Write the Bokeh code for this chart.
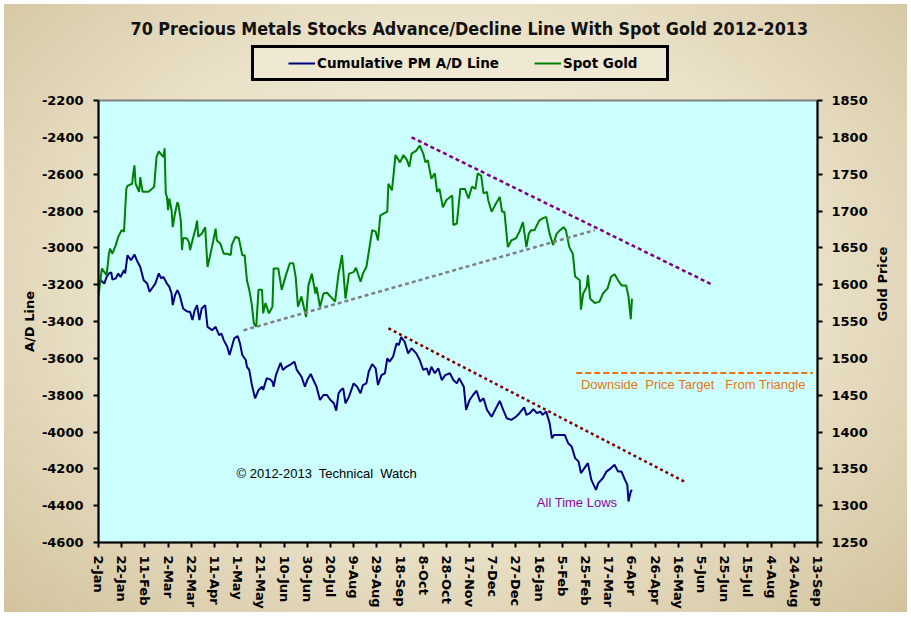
import math

from bokeh.embed import file_html
from bokeh.layouts import column
from bokeh.models import (ColumnDataSource, FixedTicker, Label, Legend, LegendItem,
                          LinearAxis, Range1d, Spacer)
from bokeh.plotting import figure
from bokeh.resources import INLINE

# Days counted from 2 Jan 2012; tick labels every 20 days up to 13 Sep 2013
X_TICK_STEP = 20
X_TICK_LABELS = [
    "2-Jan", "22-Jan", "11-Feb", "2-Mar", "22-Mar", "11-Apr", "1-May", "21-May",
    "10-Jun", "30-Jun", "20-Jul", "9-Aug", "29-Aug", "18-Sep", "8-Oct", "28-Oct",
    "17-Nov", "7-Dec", "27-Dec", "16-Jan", "5-Feb", "25-Feb", "17-Mar", "6-Apr",
    "26-Apr", "16-May", "5-Jun", "25-Jun", "15-Jul", "4-Aug", "24-Aug", "13-Sep",
]
AD_TICKS = [-4600, -4400, -4200, -4000, -3800, -3600, -3400, -3200, -3000,
            -2800, -2600, -2400, -2200]
GOLD_TICKS = [1250, 1300, 1350, 1400, 1450, 1500, 1550, 1600, 1650, 1700,
              1750, 1800, 1850]

# Cumulative PM advance/decline line
AD_DAY = [
    0, 2, 5, 7, 9, 11, 12, 15, 17, 19, 22, 23, 25, 28, 29, 31, 33, 36, 39, 42,
    44, 46, 49, 52, 54, 56, 59, 61, 63, 64, 66, 68, 70, 73, 76, 79, 81, 83, 85, 87,
    89, 92, 94, 98, 101, 104, 106, 108, 111, 113, 115, 117, 120, 122, 124, 127, 128, 130, 132, 135,
    138, 141, 142, 145, 148, 150, 151, 153, 157, 159, 162, 165, 169, 171, 175, 178, 180, 183, 186, 188,
    191, 194, 197, 200, 203, 205, 207, 209, 211, 213, 216, 220, 223, 226, 228, 231, 233, 236, 239, 241,
    244, 247, 249, 251, 254, 257, 259, 261, 264, 267, 270, 274, 277, 280, 283, 285, 287, 290, 293, 296,
    299, 303, 306, 309, 311, 315, 317, 320, 323, 326, 329, 332, 335, 339, 342, 346, 349, 352, 356, 360,
    363, 367, 369, 372, 375, 378, 381, 383, 386, 389, 391, 393, 398, 402, 405, 408, 411, 414, 416, 419,
    422, 425, 429, 431, 435, 438, 442, 445, 448, 451, 454, 456, 457, 459, 460,
]
AD_VALUE = [
    -3194, -3176, -3194, -3158, -3139, -3134, -3172, -3166, -3139, -3158, -3121, -3139, -3040, -3067, -3058, -3036, -3067, -3104, -3176, -3194,
    -3239, -3221, -3194, -3139, -3166, -3158, -3194, -3211, -3248, -3311, -3257, -3230, -3257, -3329, -3344, -3348, -3392, -3338, -3311, -3392,
    -3329, -3311, -3429, -3447, -3429, -3474, -3465, -3501, -3537, -3582, -3537, -3492, -3479, -3519, -3582, -3609, -3646, -3663, -3736, -3817,
    -3772, -3754, -3772, -3708, -3714, -3727, -3754, -3691, -3624, -3663, -3646, -3636, -3618, -3663, -3699, -3754, -3718, -3685, -3727, -3754,
    -3826, -3799, -3799, -3826, -3844, -3884, -3790, -3772, -3763, -3844, -3808, -3736, -3754, -3790, -3745, -3736, -3673, -3631, -3654, -3745,
    -3691, -3681, -3600, -3618, -3591, -3519, -3528, -3485, -3510, -3573, -3546, -3573, -3609, -3663, -3654, -3691, -3646, -3681, -3654, -3718,
    -3691, -3681, -3718, -3736, -3708, -3754, -3880, -3826, -3799, -3776, -3835, -3817, -3880, -3917, -3880, -3831, -3880, -3925, -3934, -3917,
    -3898, -3866, -3907, -3898, -3876, -3898, -3889, -3907, -3889, -3952, -4034, -4016, -4016, -4016, -4061, -4079, -4142, -4161, -4223, -4196,
    -4169, -4260, -4314, -4278, -4250, -4215, -4196, -4178, -4215, -4215, -4260, -4287, -4377, -4323, -4314,
]

# Spot gold, US$ per ounce
GOLD_DAY = [
    0, 2, 3, 6, 7, 9, 10, 12, 15, 17, 20, 22, 23, 24, 25, 29, 30, 31, 32, 35,
    36, 38, 40, 43, 46, 48, 50, 52, 54, 56, 57, 58, 59, 60, 61, 63, 64, 66, 68, 69,
    71, 72, 73, 76, 78, 79, 81, 84, 85, 86, 89, 92, 94, 96, 99, 101, 102, 105, 108, 111,
    114, 115, 118, 121, 124, 126, 128, 130, 132, 134, 136, 138, 141, 142, 144, 147, 150, 151, 155, 158,
    162, 165, 168, 170, 172, 175, 179, 181, 184, 187, 188, 191, 194, 197, 200, 204, 207, 210, 213, 216,
    220, 222, 226, 228, 231, 236, 239, 241, 243, 249, 250, 253, 255, 256, 260, 263, 266, 268, 270, 274,
    277, 280, 282, 284, 287, 290, 292, 294, 297, 300, 305, 306, 309, 312, 316, 319, 322, 325, 327, 330,
    332, 335, 336, 339, 342, 346, 348, 350, 353, 356, 360, 363, 366, 369, 371, 373, 376, 380, 383, 386,
    389, 392, 395, 398, 401, 403, 406, 409, 411, 415, 416, 418, 421, 422, 424, 428, 432, 435, 439, 442,
    445, 448, 451, 455, 457, 459, 460,
]
GOLD_PRICE = [
    1584, 1611, 1622, 1615, 1613, 1642, 1649, 1642, 1654, 1665, 1674, 1672, 1701, 1730, 1734, 1737, 1751, 1762, 1737, 1726,
    1746, 1726, 1726, 1726, 1730, 1733, 1773, 1781, 1777, 1773, 1785, 1724, 1719, 1701, 1717, 1701, 1678, 1697, 1712, 1708,
    1687, 1647, 1663, 1663, 1658, 1647, 1660, 1678, 1687, 1665, 1669, 1678, 1624, 1638, 1660, 1676, 1660, 1656, 1642, 1642,
    1640, 1654, 1665, 1663, 1640, 1640, 1606, 1593, 1575, 1547, 1543, 1593, 1593, 1561, 1575, 1561, 1570, 1622, 1622, 1593,
    1615, 1629, 1629, 1611, 1570, 1584, 1556, 1599, 1615, 1588, 1597, 1570, 1588, 1589, 1584, 1577, 1615, 1640, 1581, 1615,
    1617, 1623, 1604, 1615, 1624, 1674, 1672, 1660, 1694, 1699, 1737, 1728, 1758, 1776, 1766, 1776, 1769, 1760, 1778, 1782,
    1789, 1778, 1766, 1769, 1744, 1751, 1726, 1730, 1705, 1715, 1721, 1681, 1683, 1730, 1730, 1717, 1733, 1730, 1751, 1748,
    1724, 1726, 1715, 1699, 1708, 1719, 1699, 1699, 1651, 1660, 1663, 1672, 1685, 1651, 1669, 1674, 1674, 1687, 1690, 1692,
    1669, 1654, 1669, 1674, 1678, 1674, 1651, 1642, 1611, 1606, 1566, 1588, 1597, 1613, 1581, 1575, 1577, 1588, 1595, 1611,
    1614, 1606, 1599, 1599, 1584, 1553, 1581,
]

# Hand-drawn trend lines (triangle on gold, falling resistance on the A/D line)
GOLD_SUPPORT_DAY = [125, 428]
GOLD_SUPPORT_PRICE = [1538, 1674]
GOLD_RESIST_DAY = [270, 528]
GOLD_RESIST_PRICE = [1800, 1601]
AD_RESIST_DAY = [250, 506]
AD_RESIST_VALUE = [-3437, -4272]
TARGET_DAY = [412, 616]
TARGET_PRICE = 1480

AD_COLOR = "#000080"
GOLD_COLOR = "#008000"
TICK_FONT = "DejaVu Sans"
NOTE_FONT = "Liberation Sans"
NB = "\u00a0"  # keeps the doubled word gaps of the notes

ad_src = ColumnDataSource(data=dict(day=AD_DAY, value=AD_VALUE))
gold_src = ColumnDataSource(data=dict(day=GOLD_DAY, price=GOLD_PRICE))

# ---- header: title and legend -------------------------------------------
head = figure(
    width=911, height=75,
    output_backend="svg", toolbar_location=None,
    x_range=Range1d(0, 1), y_range=Range1d(0, 1),
    x_axis_type=None, y_axis_type=None,
    min_border_left=0, min_border_right=0, min_border_top=0, min_border_bottom=0,
)
head.border_fill_color = None
head.background_fill_color = None
head.outline_line_color = None
head.grid.visible = False
head.title.text = "70 Precious Metals Stocks Advance/Decline Line With Spot Gold 2012-2013"
head.title.align = "left"
head.title.offset = 32
head.title.standoff = 0
head.title.text_font = "DejaVu Sans Condensed, Liberation Sans Narrow, DejaVu Sans"
head.title.text_font_size = "17.8px"
head.title.text_font_style = "bold"
head.title.text_color = "#111111"

# legend keys: the series drawn against the header's unit ranges fall outside
# its frame, so only their swatches show
ad_key = head.line("day", "value", source=ad_src, line_color=AD_COLOR, line_width=2)
gold_key = head.line("day", "price", source=gold_src, line_color=GOLD_COLOR, line_width=2)
legend = Legend(
    items=[LegendItem(label="Cumulative PM A/D Line", renderers=[ad_key]),
           LegendItem(label="Spot Gold", renderers=[gold_key])],
    orientation="horizontal",
    location=(153, 9),
    title=" ", title_location="left", title_standoff=14,
    padding=5, margin=0, spacing=35,
    glyph_width=27, glyph_height=16, label_standoff=2, label_width=98, label_height=20,
    label_text_font=TICK_FONT, label_text_font_style="bold", label_text_font_size="13.5px",
    label_text_color="black",
    border_line_color="black", border_line_width=3, border_line_alpha=1,
    background_fill_color="#EFE8D2", background_fill_alpha=1,
)
head.add_layout(legend, "center")

# ---- main chart ----------------------------------------------------------
p = figure(
    width=911, height=533,
    output_backend="svg", toolbar_location=None,
    x_range=Range1d(0, X_TICK_STEP * (len(X_TICK_LABELS) - 1)),
    y_range=Range1d(AD_TICKS[0], AD_TICKS[-1]),
    min_border_left=98, min_border_right=94, min_border_top=10, min_border_bottom=81,
)
p.extra_y_ranges = {"gold": Range1d(GOLD_TICKS[0], GOLD_TICKS[-1])}
p.border_fill_color = None
p.background_fill_color = "#CCFFFF"
p.outline_line_color = "#808080"
p.outline_line_width = 2
p.xgrid.visible = False
p.ygrid.visible = False


def style_axis(ax):
    ax.axis_line_color = "black"
    ax.axis_line_width = 2
    ax.major_tick_line_color = "black"
    ax.major_tick_line_width = 2
    ax.major_tick_out = 5
    ax.major_tick_in = 0
    ax.minor_tick_line_color = None
    ax.major_label_text_font = TICK_FONT
    ax.major_label_text_font_style = "bold"
    ax.major_label_text_font_size = "13px"
    ax.major_label_text_color = "black"
    ax.axis_label_text_font = TICK_FONT
    ax.axis_label_text_font_style = "bold"
    ax.axis_label_text_font_size = "13px"
    ax.axis_label_text_color = "black"


xax = p.xaxis[0]
style_axis(xax)
xticks = [i * X_TICK_STEP for i in range(len(X_TICK_LABELS))]
xax.ticker = FixedTicker(ticks=xticks)
xax.major_label_overrides = {t: lab for t, lab in zip(xticks, X_TICK_LABELS)}
xax.major_label_orientation = "vertical"
xax.major_label_standoff = 8

yax = p.yaxis[0]
style_axis(yax)
yax.ticker = FixedTicker(ticks=AD_TICKS)
yax.major_label_overrides = {t: str(t) for t in AD_TICKS}  # plain hyphen minus
yax.axis_label = "A/D Line"
yax.major_label_standoff = 10
yax.axis_label_standoff = 2

gax = LinearAxis(y_range_name="gold", ticker=FixedTicker(ticks=GOLD_TICKS), axis_label="Gold Price")
style_axis(gax)
gax.major_label_standoff = 9
gax.axis_label_standoff = 12
gax.axis_label_orientation = math.pi / 2
p.add_layout(gax, "right")

p.line("day", "value", source=ad_src, line_color=AD_COLOR, line_width=2)
p.line("day", "price", source=gold_src, y_range_name="gold", line_color=GOLD_COLOR, line_width=2)

p.line(GOLD_SUPPORT_DAY, GOLD_SUPPORT_PRICE, y_range_name="gold",
       line_color="#808080", line_width=2.5, line_dash="4 3")
p.line(GOLD_RESIST_DAY, GOLD_RESIST_PRICE, y_range_name="gold",
       line_color="#800080", line_width=2.5, line_dash="4 3")
p.line(AD_RESIST_DAY, AD_RESIST_VALUE,
       line_color="#800000", line_width=2.5, line_dash="3 3")
p.line(TARGET_DAY, [TARGET_PRICE, TARGET_PRICE], y_range_name="gold",
       line_color="#F07010", line_width=2, line_dash="6 3")

p.add_layout(Label(x=416, y=1464, y_range_name="gold",
                   text=f"Downside{NB} Price Target{NB}{NB} From Triangle",
                   text_font=NOTE_FONT, text_font_size="13px",
                   text_color="#E8760E", text_baseline="middle"))
p.add_layout(Label(x=378, y=-4383, text="All Time Lows",
                   text_font=NOTE_FONT, text_font_size="13px",
                   text_color="#990099", text_baseline="middle"))
p.add_layout(Label(x=119, y=-4227, text=f"\u00a9 2012-2013{NB} Technical{NB} Watch",
                   text_font=NOTE_FONT, text_font_size="13px",
                   text_color="black", text_baseline="middle"))

# parchment-style chart area with a thin white surround
page = column(
    Spacer(width=911, height=15), head, p,
    styles={
        "background": "radial-gradient(ellipse at 50% 45%, #F5F0E0 0%, #EAE1C8 55%, #D2C39D 100%) "
                      "4px 4px / 903px 608px no-repeat, #FFFFFF",
    },
)

open("out.html", "w").write(file_html(page, INLINE))
